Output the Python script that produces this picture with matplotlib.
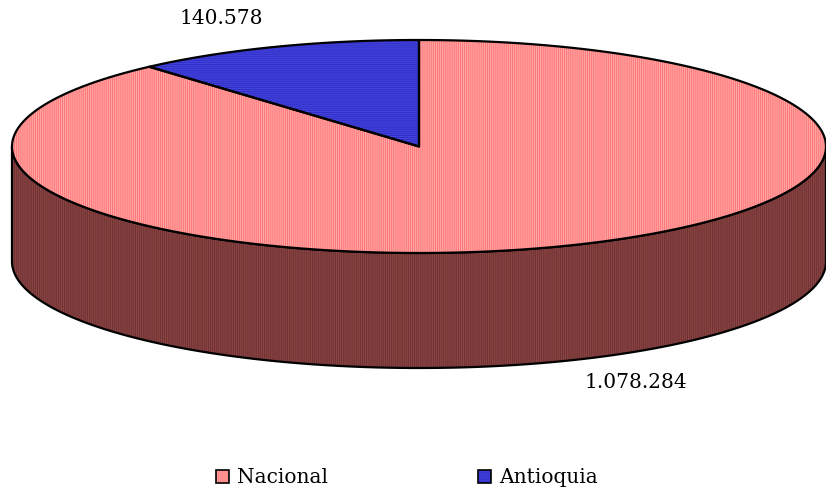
import numpy as np
import matplotlib.pyplot as plt
from matplotlib.patches import Polygon, Rectangle

# data
categories = ['Nacional', 'Antioquia']
values = [1078284, 140578]
value_labels = ['1.078.284', '140.578']

# colours (top, side, hatch)
top_colors = ['#ff7474', '#3030c8']
hatch_colors = ['#ffa8a8', '#4444dd']
side_color = '#6e3232'
side_hatch = '#8c4444'
hatches = ['|' * 8, '-' * 8]

plt.rcParams['hatch.linewidth'] = 0.8

# geometry of the pie in pixels
cx, cy = 419, 146.5
a, b = 407, 106.5
depth = 115


def ellipse_pts(t0, t1, n=200, dy=0):
    t = np.radians(np.linspace(t0, t1, n))
    return np.column_stack([cx + a * np.cos(t), cy - b * np.sin(t) + dy])


def draw_patch(ax, pts, face, hcol, hatch, z):
    ax.add_patch(Polygon(pts, closed=True, facecolor=face, edgecolor=hcol,
                         hatch=hatch, linewidth=0, zorder=z))
    ax.add_patch(Polygon(pts, closed=True, facecolor='none', edgecolor='black',
                         linewidth=1.6, joinstyle='round', zorder=z + 0.5))


fig = plt.figure(figsize=(8.26, 4.9), dpi=100)
ax = fig.add_axes([0, 0, 1, 1])
ax.set_xlim(0, 826)
ax.set_ylim(490, 0)
ax.axis('off')

total = float(sum(values))
# Antioquia starts at 12 o'clock and goes counterclockwise, Nacional the rest
ant_span = 360 * values[1] / total
angles = {1: (90, 90 + ant_span), 0: (90 + ant_span, 450)}

# side wall (front half only, all Nacional)
front = ellipse_pts(180, 360)
side = np.vstack([front, front[::-1] + [0, depth]])
draw_patch(ax, side, side_color, side_hatch, hatches[0], 1)

# top faces
for i in [0, 1]:
    t0, t1 = angles[i]
    pts = np.vstack([[cx, cy], ellipse_pts(t0, t1)])
    draw_patch(ax, pts, top_colors[i], hatch_colors[i], hatches[i], 2)

# value labels
ax.text(221, 18, value_labels[1], ha='center', va='center',
        fontsize=14.5, family='DejaVu Serif')
ax.text(636, 382, value_labels[0], ha='center', va='center',
        fontsize=14.5, family='DejaVu Serif')

# legend
leg_x = [216, 478]
for i, name in enumerate(categories):
    ax.add_patch(Rectangle((leg_x[i], 470), 13, 13, facecolor=top_colors[i],
                           edgecolor=hatch_colors[i], hatch=hatches[i],
                           linewidth=0, zorder=3))
    ax.add_patch(Rectangle((leg_x[i], 470), 13, 13, facecolor='none',
                           edgecolor='black', linewidth=1.2, zorder=4))
    ax.text(leg_x[i] + 21, 477, name, ha='left', va='center',
            fontsize=14.5, family='DejaVu Serif')

fig.savefig('out.png', dpi=100)
